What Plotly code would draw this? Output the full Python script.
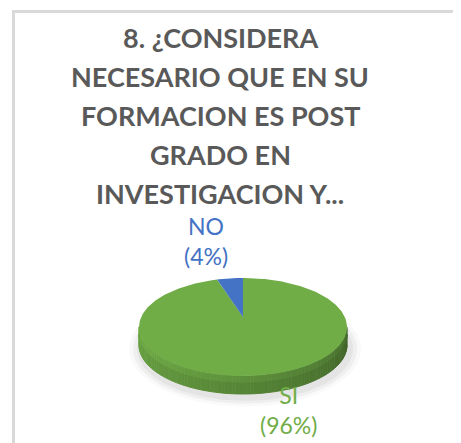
import numpy as np
import plotly.graph_objects as go

categories = ["SI", "NO"]
values = [96, 4]
colors = ["#70AD47", "#4472C4"]
title_lines = ["8. ¿CONSIDERA", "NECESARIO QUE EN SU", "FORMACION ES POST",
               "GRADO EN", "INVESTIGACION Y..."]

W, H = 461, 443
OFF = 8  # page body margin
cx, cy, a, b, depth = 243, 327, 104, 49, 18
apex_dy = -10

fig = go.Figure()


def pts(thetas, dy=0.0, ra=a, rb=b, x0=cx, y0=cy):
    t = np.radians(np.asarray(thetas, dtype=float))
    return x0 + ra * np.sin(t), y0 - rb * np.cos(t) + dy


def poly(x, y, color, opacity=1.0, lw=0):
    fig.add_trace(go.Scatter(x=list(x), y=list(y), mode="lines", fill="toself",
                             fillcolor=color, line=dict(width=lw, color=color),
                             opacity=opacity, hoverinfo="skip", showlegend=False))


# shadow
for k, op in [(12, 0.08), (8, 0.12), (4, 0.16)]:
    th = np.linspace(0, 360, 181)
    x, y = pts(th, ra=a + k, rb=b + k * 0.7, x0=cx + 2, y0=cy + depth + 4)
    poly(x, y, "rgb(175,175,175)", op)

# side wall (front half), shaded strips
step = 2
for t0 in np.arange(90, 270, step):
    t1 = t0 + step
    arc = np.linspace(t0, t1, 3)
    mid = (t0 + t1) / 2
    f = 0.56 + 0.38 * ((mid - 90) / 180.0) ** 0.85
    for d0, d1, k in [(0, depth * 0.4, 1.08), (depth * 0.4, depth, 1.0)]:
        xt, yt = pts(arc, dy=d0)
        xb, yb = pts(arc[::-1], dy=d1)
        r, g, bb = [min(255, int(c * f * k)) for c in (112, 173, 71)]
        poly(np.r_[xt, xb], np.r_[yt, yb], f"rgb({r},{g},{bb})", lw=1)

# top face slices (clockwise from 12 o'clock)
total = sum(values)
start = 0.0
ax_, ay_ = cx, cy + apex_dy
for cat, v, col in zip(categories, values, colors):
    span = 360.0 * v / total
    arc = np.linspace(start, start + span, max(3, int(span)))
    x, y = pts(arc)
    poly(np.r_[ax_, x, ax_], np.r_[ay_, y, ay_], col)
    start += span

# labels
label_pos = {"NO": (206, 241), "SI": (288, 410)}
for cat, v, col in zip(categories, values, colors):
    lx, ly = label_pos[cat]
    fig.add_annotation(x=lx, y=ly, text=f"{cat}<br>({v}%)", showarrow=False,
                       font=dict(family="Lato", size=23, color=col),
                       xanchor="center", yanchor="middle")

# title
for i, line in enumerate(title_lines):
    fig.add_annotation(x=220, y=37 + i * 39, text=line, showarrow=False,
                       font=dict(family="Lato", size=27, color="#595959", weight="bold"),
                       xanchor="center", yanchor="middle")

# chart area border
fig.add_shape(type="rect", x0=13.5, y0=11.5, x1=490, y1=480,
              line=dict(color="#D9D9D9", width=3), layer="below")

fig.update_layout(
    width=W, height=H, margin=dict(l=0, r=0, t=0, b=0),
    paper_bgcolor="white", plot_bgcolor="white",
    xaxis=dict(range=[OFF, W + OFF], visible=False, fixedrange=True),
    yaxis=dict(range=[H + OFF, OFF], visible=False, fixedrange=True),
    showlegend=False,
)

fig.write_html("out.html")
